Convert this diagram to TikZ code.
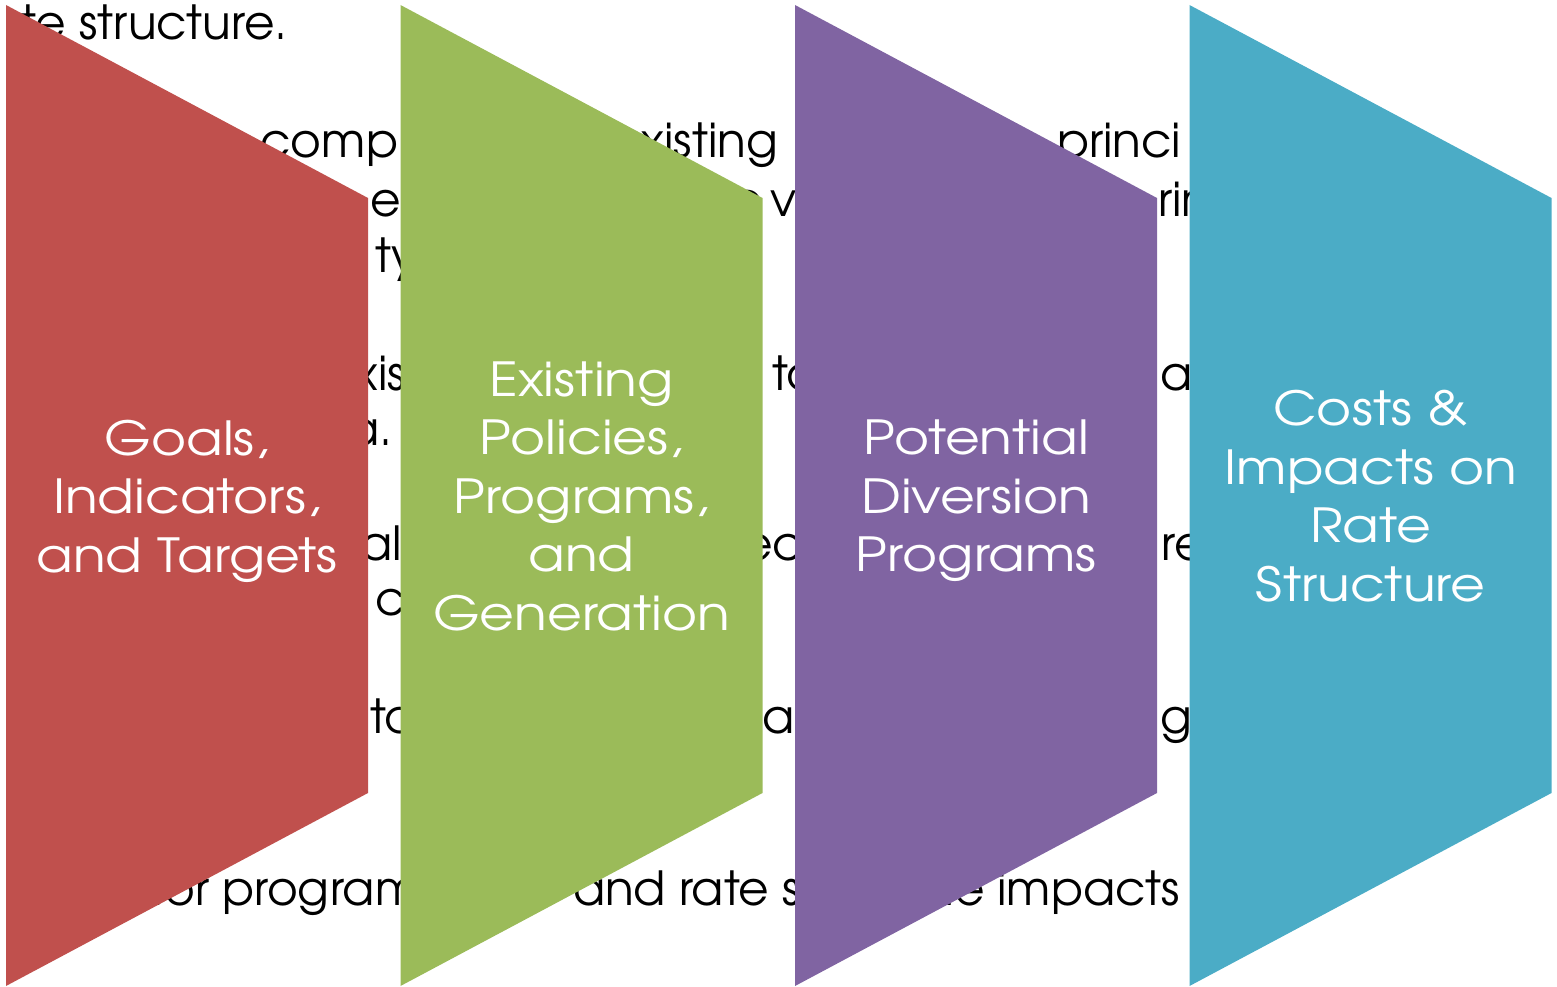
\documentclass[tikz,border=0pt]{standalone}
\usepackage{fontspec}
\setmainfont{TeX Gyre Adventor}
\newfontfamily\stagefont{TeX Gyre Adventor}[FakeStretch=1.14]
\definecolor{goalred}{HTML}{C0504D}
\definecolor{policygreen}{HTML}{9BBB59}
\definecolor{divpurple}{HTML}{8064A2}
\definecolor{costblue}{HTML}{4BACC6}
\begin{document}
\begin{tikzpicture}
	[
	x=1pt, y=-1pt,
	behind/.style={inner sep=0pt, text=black, font=\fontsize{47}{55}\selectfont},
	bwest/.style={behind, anchor=base west},
	beast/.style={behind, anchor=base east},
	stage/.style={align=center, text=white, font=\stagefont\fontsize{47}{58.5}\selectfont}
	]
		\useasboundingbox (0,0) rectangle (1557,987);
		
		% slide text behind the funnel
		\node (t1) [beast] at (288, 40) {te structure.};
		
		\node (t2a) [bwest] at (260, 158) {comp};
		\node (t2b) [beast] at (778, 158) {existing};
		\node (t2c) [bwest] at (1057, 158) {princi};
		
		\node (t3a) [bwest] at (370, 216) {e};
		\node (t3b) [beast] at (763, 216) {e};
		\node (t3c) [bwest] at (770, 216) {very};
		\node (t3d) [bwest] at (1158, 216) {ring};
		
		\node (t4a) [bwest] at (375, 272) {type};
		
		\node (t5a) [bwest] at (326, 390) {existing};
		\node (t5b) [bwest] at (772, 390) {to};
		\node (t5c) [bwest] at (1160, 390) {and};
		
		\node (t6a) [beast] at (393, 445) {data.};
		
		\node (t7a) [bwest] at (360, 560) {also};
		\node (t7b) [bwest] at (742, 560) {ect};
		\node (t7c) [bwest] at (1161, 560) {re};
		
		\node (t8a) [bwest] at (375, 615) {co};
		
		\node (t9a) [bwest] at (370, 733) {to};
		\node (t9b) [bwest] at (762, 733) {are};
		\node (t9c) [bwest] at (1160, 733) {g};
		
		\node (t10a) [beast] at (210, 905) {for};
		\node (t10b) [bwest] at (222, 905) {programs};
		\node (t10c) [bwest] at (573, 905) {and rate s};
		\node (t10d) [beast] at (985, 905) {the};
		\node (t10e) [bwest] at (997, 905) {impacts};
		
		% funnel stages
		\foreach \x/\col in {6/goalred, 400.5/policygreen, 795/divpurple, 1189.5/costblue}
			\fill [\col] (\x, 5) -- (\x+362, 198) -- (\x+362, 793) -- (\x, 986) -- cycle;
		
		\node (goals) [stage] at (187, 501) {Goals,\\Indicators,\\and Targets};
		\node (policies) [stage] at (581.5, 496) {Existing\\Policies,\\Programs,\\and\\Generation};
		\node (diversion) [stage] at (976, 501) {Potential\\Diversion\\Programs};
		\node (costs) [stage] at (1370.5, 496) {Costs \&\\Impacts on\\Rate\\Structure};
	\end{tikzpicture}
\end{document}
